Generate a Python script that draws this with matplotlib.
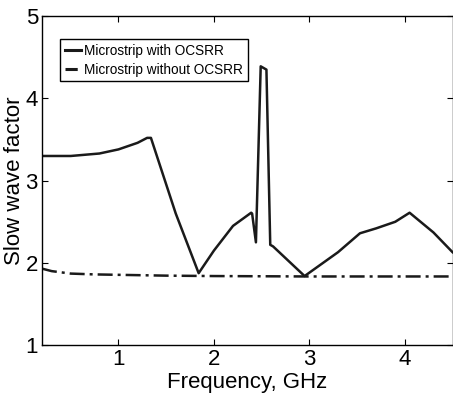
import matplotlib
matplotlib.use('Agg')
import matplotlib.pyplot as plt
from matplotlib.lines import Line2D

# data
freq_with = [0.2, 0.5, 0.8, 1.0, 1.2, 1.3, 1.34, 1.6, 1.84, 2.0, 2.2, 2.39, 2.40,
             2.44, 2.49, 2.55, 2.59, 2.62, 2.95, 3.3, 3.53, 3.7, 3.9, 4.05, 4.3, 4.5]
sw_with = [3.30, 3.30, 3.33, 3.38, 3.46, 3.52, 3.52, 2.60, 1.875, 2.15, 2.45, 2.61, 2.60,
           2.25, 4.39, 4.35, 2.22, 2.20, 1.84, 2.13, 2.36, 2.42, 2.50, 2.61, 2.37, 2.13]

freq_without = [0.2, 0.3, 0.5, 0.75, 1.0, 1.5, 2.0, 3.0, 4.0, 4.5]
sw_without = [1.93, 1.90, 1.87, 1.86, 1.855, 1.845, 1.84, 1.835, 1.835, 1.835]

xticks = [1, 2, 3, 4]
yticks = [1, 2, 3, 4, 5]

plt.rcParams['font.family'] = ['Liberation Sans Narrow', 'Liberation Sans', 'DejaVu Sans']

fig = plt.figure(figsize=(4.53, 3.94), dpi=100)
ax = fig.add_axes([0.093, 0.124, 0.906, 0.835])

ax.plot(freq_with, sw_with, color='#1a1a1a', linewidth=1.8, label='Microstrip with OCSRR')
ax.plot(freq_without, sw_without, color='#1a1a1a', linewidth=1.8,
        linestyle=(0, (6, 2, 1.2, 2)), label='Microstrip without OCSRR')

ax.set_xlim(0.2, 4.5)
ax.set_ylim(1, 5)
ax.set_xticks(xticks)
ax.set_yticks(yticks)
ax.tick_params(direction='in', top=True, right=True, labelsize=16, length=4, pad=3)
for s in ax.spines.values():
    s.set_linewidth(1.0)

ax.set_xlabel('Frequency, GHz', fontsize=16, labelpad=1)
ax.set_ylabel('Slow wave factor', fontsize=16, labelpad=0)

handles = [Line2D([0], [0], color='#1a1a1a', linewidth=2.2),
           Line2D([0], [0], color='#1a1a1a', linewidth=2.2, linestyle=(0, (4, 1.5, 1, 1.5)))]
leg = ax.legend(handles, ['Microstrip with OCSRR', 'Microstrip without OCSRR'],
                loc='upper left', bbox_to_anchor=(0.044, 0.93), fontsize=9.8,
                frameon=True, fancybox=False, framealpha=1, edgecolor='black',
                handlelength=1.2, handletextpad=0.2, borderpad=0.35, labelspacing=0.35,
                borderaxespad=0)
leg.get_frame().set_linewidth(1.0)

plt.savefig('out.png', dpi=100)
